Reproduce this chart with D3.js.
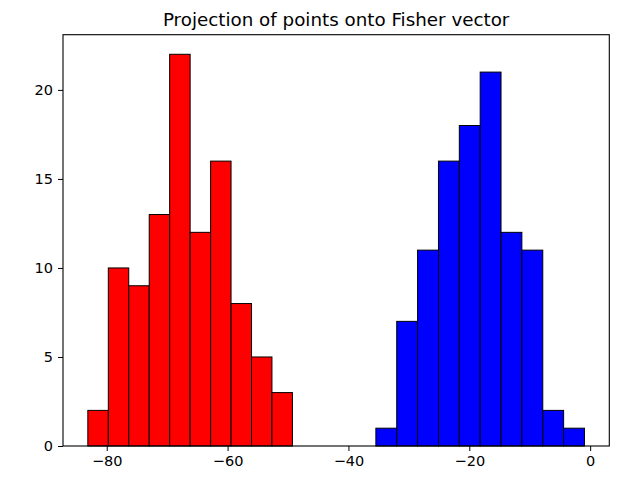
<!DOCTYPE html>
<html>
<head>
<meta charset="utf-8">
<script src="https://cdn.jsdelivr.net/npm/d3@7"></script>
<style>
  body { margin: 0; background: #fff; }
  text { font-family: "DejaVu Sans", sans-serif; fill: #000; }
</style>
</head>
<body>
<div id="chart"></div>
<script>
// Histogram bin edges and counts
const redEdges = [-83.13, -79.74, -76.36, -72.97, -69.59, -66.20, -62.81, -59.43, -56.04, -52.66, -49.27];
const redCounts = [2, 10, 9, 13, 22, 12, 16, 8, 5, 3];
const blueEdges = [-35.46, -32.01, -28.56, -25.10, -21.65, -18.20, -14.75, -11.30, -7.84, -4.39, -0.94];
const blueCounts = [1, 7, 11, 16, 18, 21, 12, 11, 2, 1];
const xTicks = [-80, -60, -40, -20, 0];
const yTicks = [0, 5, 10, 15, 20];

const W = 624, H = 478;
const margin = { top: 34.7, right: 14.7, bottom: 32, left: 63 };
const width = W - margin.left - margin.right;
const height = H - margin.top - margin.bottom;

const svg = d3.select("#chart")
  .append("svg")
  .attr("width", W)
  .attr("height", H);

const g = svg.append("g")
  .attr("transform", `translate(${margin.left}, ${margin.top})`);

// matplotlib-style 5% margins on x
const xmin = d3.min(redEdges.concat(blueEdges));
const xmax = d3.max(redEdges.concat(blueEdges));
const pad = (xmax - xmin) * 0.05;
const x = d3.scaleLinear().domain([xmin - pad, xmax + pad]).range([0, width]);
const ymax = d3.max(redCounts.concat(blueCounts)) * 1.05;
const y = d3.scaleLinear().domain([0, ymax]).range([height, 0]);

function bins(edges, counts) {
  return counts.map((c, i) => ({ x0: edges[i], x1: edges[i + 1], count: c }));
}

// Bars
[[bins(redEdges, redCounts), "#ff0000"], [bins(blueEdges, blueCounts), "#0000ff"]].forEach(([data, color]) => {
  g.append("g")
    .selectAll("rect")
    .data(data)
    .enter()
    .append("rect")
    .attr("x", d => x(d.x0))
    .attr("y", d => y(d.count))
    .attr("width", d => x(d.x1) - x(d.x0))
    .attr("height", d => y(0) - y(d.count))
    .attr("fill", color)
    .attr("stroke", "#000")
    .attr("stroke-width", 1);
});

// Axes
const xAxis = g.append("g")
  .attr("transform", `translate(0, ${height})`)
  .call(d3.axisBottom(x).tickValues(xTicks).tickSize(5).tickPadding(5)
    .tickFormat(d => d < 0 ? "\u2212" + Math.abs(d) : d));
const yAxis = g.append("g")
  .call(d3.axisLeft(y).tickValues(yTicks).tickSize(5).tickPadding(5));

[xAxis, yAxis].forEach(a => {
  a.select(".domain").remove();
  a.selectAll("text").style("font-size", "14.5px").style("font-family", "DejaVu Sans");
  a.selectAll("line").attr("stroke", "#000");
});

// Frame
g.append("rect")
  .attr("width", width)
  .attr("height", height)
  .attr("fill", "none")
  .attr("stroke", "#000")
  .attr("stroke-width", 1.1);

// Title
g.append("text")
  .attr("x", width / 2)
  .attr("y", -9)
  .attr("text-anchor", "middle")
  .style("font-size", "18.3px")
  .text("Projection of points onto Fisher vector");
</script>
</body>
</html>
